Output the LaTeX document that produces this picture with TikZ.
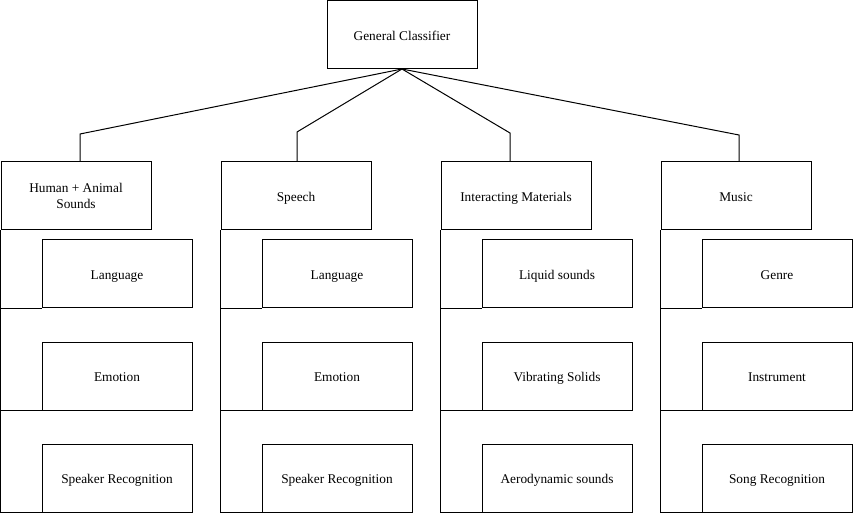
\documentclass[tikz,border=0pt]{standalone}
\usepackage{fontspec}
\setmainfont{Liberation Serif}
\begin{document}
\begin{tikzpicture}[x=0.75pt,y=-0.75pt,
  boxbase/.style={draw, line width=0.75pt, minimum width=112.5pt, minimum height=51pt,
    inner sep=2pt, align=center, font=\fontsize{10}{12.5}\selectfont},
  box/.style={boxbase, text height=9pt, text depth=0.5pt},
  conn/.style={line width=0.75pt}]
\useasboundingbox (0,0) rectangle (853,513);
% top
\node[box] (gc) at (402,34.5) {General Classifier};
% categories
\node[boxbase] (c1) at (76,196) {Human + Animal\\Sounds};
\node[box] (c2) at (296,196) {Speech};
\node[box] (c3) at (516,196) {Interacting Materials};
\node[box] (c4) at (736,196) {Music};
% sub boxes
\node[box] (a1) at (117,274) {Language};
\node[box] (a2) at (117,376) {Emotion};
\node[box] (a3) at (117,478) {Speaker Recognition};
\node[box] (b1) at (337,274) {Language};
\node[box] (b2) at (337,376) {Emotion};
\node[box] (b3) at (337,478) {Speaker Recognition};
\node[box] (d1) at (557,274) {Liquid sounds};
\node[box] (d2) at (557,376) {Vibrating Solids};
\node[box] (d3) at (557,478) {Aerodynamic sounds};
\node[box] (e1) at (777,274) {Genre};
\node[box] (e2) at (777,376) {Instrument};
\node[box] (e3) at (777,478) {Song Recognition};
% elbows
\coordinate (k1) at (80,134);
\coordinate (k2) at (297,132);
\coordinate (k3) at (510,133);
\coordinate (k4) at (739,135);
\foreach \i in {1,2,3,4}{
  \draw[conn] (gc.south) -- (k\i) -- (k\i |- c\i.north);
}
% column connectors
\foreach \c/\s in {c1/a, c2/b, c3/d, c4/e}{
  \draw[conn] (\c.south west) -- (\c.west |- \s3.south) -- (\s3.south west);
  \draw[conn] (\c.west |- \s1.south) -- (\s1.south west);
  \draw[conn] (\c.west |- \s2.south) -- (\s2.south west);
}
\end{tikzpicture}
\end{document}
